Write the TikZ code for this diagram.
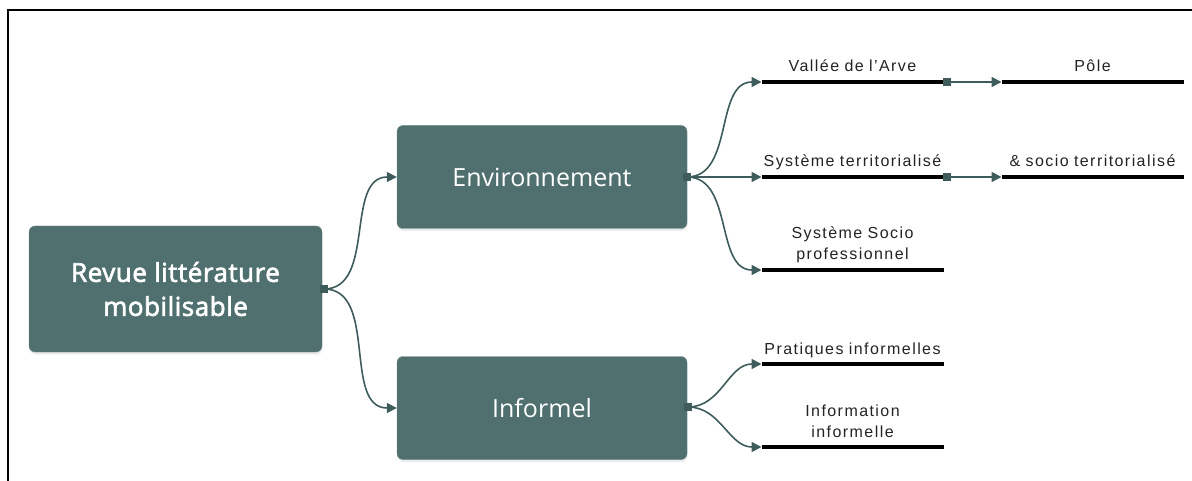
\documentclass[tikz,border=0pt]{standalone}
\usepackage{fontspec}
\setmainfont{Liberation Sans}[LetterSpace=9]
\newfontfamily\boxfont{Open Sans}
\newfontfamily\rootfont{Open Sans}[FakeBold=2.5, LetterSpace=2]
\usetikzlibrary{shadows,arrows.meta}
\definecolor{boxfill}{RGB}{80,112,112}
\definecolor{linkcol}{RGB}{62,92,92}
\definecolor{leaftext}{RGB}{35,35,35}
\begin{document}
\begin{tikzpicture}[x=1pt,y=-1pt,
  mainbox/.style={draw=boxfill!85!white, fill=boxfill, rounded corners=6pt, text=white,
    align=center, inner sep=0pt,
    drop shadow={opacity=0.15, shadow xshift=0.5pt, shadow yshift=-2.5pt}},
  leaf/.style={anchor=south, text width=190pt, align=center, inner xsep=0pt, inner ysep=3.5pt,
    font=\fontsize{16}{21}\selectfont, text=leaftext, execute at end node=\strut},
  bar/.style={line width=3.5pt, black},
  link/.style={draw=linkcol, line width=1.6pt, -{Triangle[length=10pt,width=10pt]}},
  port/.style={fill=linkcol, minimum size=8.5pt, inner sep=0pt}
]
\useasboundingbox (0,0) rectangle (1192,481);
% frame
\draw[line width=2pt] (7.5,481) -- (7.5,10) -- (1192,10);

% main boxes
\node[mainbox, minimum width=293pt, minimum height=126pt,
      font=\rootfont\fontsize{26}{34}\selectfont] (root) at (175.5,289)
      {Revue littérature\\mobilisable};
\node[mainbox, minimum width=290pt, minimum height=103pt,
      font=\boxfont\fontsize{25}{30}\selectfont] (env) at (542,177) {Environnement};
\node[mainbox, minimum width=290pt, minimum height=103pt,
      font=\boxfont\fontsize{25}{30}\selectfont] (inf) at (542,408) {Informel};

% ports
\node[port] (proot) at (324,289) {};
\node[port] (penv) at (687,177) {};
\node[port] (pinf) at (688,407) {};

% leaves (bars drawn 182pt wide, centred on the node)
\node[leaf] (vallee) at (852.5,82) {Vallée de l’Arve};
\node[leaf] (pole) at (1092.5,82) {Pôle};
\node[leaf] (systerr) at (852.5,177) {Système territorialisé};
\node[leaf] (socioterr) at (1092.5,177) {\& socio territorialisé};
\node[leaf] (socio) at (852.5,270) {Système Socio\\professionnel};
\node[leaf] (prat) at (852.5,364) {Pratiques informelles};
\node[leaf] (infoinf) at (852.5,447) {Information\\informelle};

\foreach \n in {vallee,pole,systerr,socioterr,socio,prat,infoinf}
  \draw[bar] ([xshift=-91pt]\n.south) -- ([xshift=91pt]\n.south);

\node[port] (pvallee) at (947,82) {};
\node[port] (psysterr) at (947,177) {};

% links
\draw[link] (proot.center) to[out=0,in=180] (env.west);
\draw[link] (proot.center) to[out=0,in=180] (inf.west);
\draw[link] (penv.center) to[out=0,in=180] ([xshift=-91pt]vallee.south);
\draw[link] (penv.center) -- ([xshift=-91pt]systerr.south);
\draw[link] (penv.center) to[out=0,in=180] ([xshift=-91pt]socio.south);
\draw[link] (pinf.center) to[out=0,in=180] ([xshift=-91pt]prat.south);
\draw[link] (pinf.center) to[out=0,in=180] ([xshift=-91pt]infoinf.south);
\draw[link] (pvallee.center) -- ([xshift=-91pt]pole.south);
\draw[link] (psysterr.center) -- ([xshift=-91pt]socioterr.south);
\end{tikzpicture}
\end{document}
